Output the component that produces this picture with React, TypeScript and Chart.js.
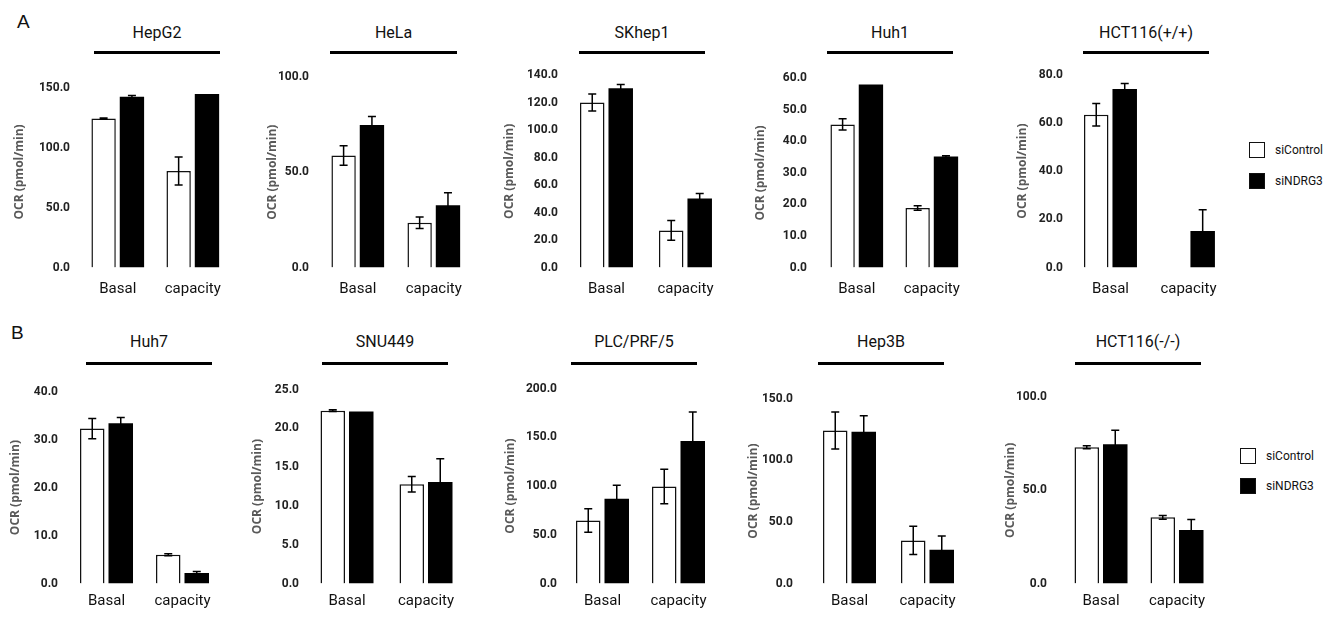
import React, { useEffect, useRef } from 'react';
import { Chart, registerables } from 'chart.js';

Chart.register(...registerables);

// ---------------- data ----------------
const categories = ['Basal', 'capacity'];
const seriesNames = ['siControl', 'siNDRG3'];
const cellLines = ['HepG2', 'HeLa', 'SKhep1', 'Huh1', 'HCT116(+/+)', 'Huh7', 'SNU449', 'PLC/PRF/5', 'Hep3B', 'HCT116(-/-)'];
const siControlValues: (number | null)[][] = [
  [124.7, 80.8], [58.8, 23.5], [120.1, 27.0], [45.4, 18.9], [63.4, null],
  [32.3, 6.0], [22.3, 12.8], [64.7, 99.5], [124.2, 35.0], [73.1, 35.5],
];
const siControlErrors = [
  [0.6, 11.8], [5.1, 3.0], [6.2, 7.2], [1.8, 0.7], [4.7, 0],
  [2.1, 0.2], [0.1, 1.0], [12.0, 17.7], [15.0, 11.5], [0.8, 1.0],
];
const siNDRG3Values = [
  [142.9, 145.3], [74.8, 32.7], [130.5, 50.3], [58.1, 35.2], [74.1, 15.1],
  [33.4, 2.2], [22.2, 13.1], [86.9, 146.2], [123.2, 27.3], [74.7, 28.7],
];
const siNDRG3Errors = [
  [1.2, 0], [4.5, 6.5], [2.8, 3.6], [0, 0.3], [2.3, 8.9],
  [1.2, 0.3], [0, 3.0], [14.0, 30.0], [13.0, 11.3], [7.6, 5.6],
];
const axisMax = [160, 100, 140, 60, 80, 40, 25, 200, 150, 100];
const axisStep = [50, 50, 20, 10, 20, 10, 5, 50, 50, 50];
const yAxisTitle = 'OCR (pmol/min)';
const panelLetters = ['A', 'B'];

// ---------------- layout (page pixels) ----------------
const panelLayout = [
  { row: 0, titleX: 19.5, tickRight: 70, basal: 118, cap: 193.5, lineL: 94, lineR: 220 },
  { row: 0, titleX: 272.5, tickRight: 309, basal: 358, cap: 434.5, lineL: 330, lineR: 457 },
  { row: 0, titleX: 509.5, tickRight: 558, basal: 606.5, cap: 685.5, lineL: 579, lineR: 705 },
  { row: 0, titleX: 761, tickRight: 807, basal: 857, cap: 932.5, lineL: 827, lineR: 953 },
  { row: 0, titleX: 1022.5, tickRight: 1063, basal: 1110.5, cap: 1188.5, lineL: 1083, lineR: 1209 },
  { row: 1, titleX: 15.5, tickRight: 58, basal: 106.5, cap: 182.5, lineL: 86, lineR: 212 },
  { row: 1, titleX: 257.5, tickRight: 299, basal: 347, cap: 426, lineL: 322, lineR: 448 },
  { row: 1, titleX: 510.5, tickRight: 557, basal: 602.5, cap: 678.5, lineL: 571, lineR: 697 },
  { row: 1, titleX: 754, tickRight: 793, basal: 849.5, cap: 927.5, lineL: 818, lineR: 944 },
  { row: 1, titleX: 1010.5, tickRight: 1047, basal: 1101, cap: 1177, lineL: 1075, lineR: 1201 },
];
const rowLayout = [
  { plotTop: 71, baseline: 267.5, titleY: 33, lineY: 51, labelGap: 16, letterX: 17, letterY: 21,
    legendX: 1249, legendY: [142, 173], legendTextX: 1275 },
  { plotTop: 386.5, baseline: 583.5, titleY: 342, lineY: 362, labelGap: 11.5, letterX: 11, letterY: 332,
    legendX: 1240, legendY: [448, 478], legendTextX: 1266 },
];

const SANS = "Roboto, 'Open Sans', sans-serif";
const CAT_SIZE = 15;

const errorBarPlugin = {
  id: 'errorBars',
  afterDatasetsDraw(chart: any) {
    const ctx = chart.ctx;
    const yScale = chart.scales.y;
    chart.data.datasets.forEach((ds: any, di: number) => {
      const meta = chart.getDatasetMeta(di);
      meta.data.forEach((bar: any, i: number) => {
        const v = ds.data[i];
        const e = ds.errors ? ds.errors[i] : 0;
        if (v == null || !e) return;
        const x = bar.x;
        const top = yScale.getPixelForValue(v + e);
        const bot = yScale.getPixelForValue(v - e);
        ctx.save();
        ctx.strokeStyle = '#000';
        ctx.lineWidth = 1.5;
        ctx.beginPath();
        ctx.moveTo(x, top);
        ctx.lineTo(x, bot);
        ctx.moveTo(x - 4, top);
        ctx.lineTo(x + 4, top);
        ctx.moveTo(x - 4, bot);
        ctx.lineTo(x + 4, bot);
        ctx.stroke();
        ctx.restore();
      });
    });
  },
};

function Panel({ index }: { index: number }) {
  const ref = useRef<HTMLCanvasElement | null>(null);
  const L = panelLayout[index];
  const R = rowLayout[L.row];
  const spacing = L.cap - L.basal;
  const chartLeft = L.basal - spacing / 2;
  const plotW = spacing * 2;
  const titleOffset = 7.2;
  const canvasLeft = Math.floor(L.titleX - titleOffset);
  const yAxisW = chartLeft - canvasLeft;
  const canvasTop = Math.floor(R.plotTop - 12);
  const xAxisH = 34;
  const innerW = chartLeft + plotW - canvasLeft;
  const width = Math.ceil(innerW) + 2;
  const plotBottom = R.baseline - canvasTop;
  const height = Math.ceil(plotBottom + xAxisH);
  const labelPad = R.labelGap + 0.41 * CAT_SIZE - CAT_SIZE * 0.6;

  useEffect(() => {
    if (!ref.current) return;
    const desired = { left: chartLeft - canvasLeft, top: R.plotTop - canvasTop, right: innerW, bottom: plotBottom };
    const pad = { left: 0, top: desired.top, right: width - innerW, bottom: height - xAxisH - plotBottom };
    const chart = new Chart(ref.current, {
      type: 'bar',
      data: {
        labels: categories,
        datasets: [
          {
            label: seriesNames[0],
            data: siControlValues[index],
            errors: siControlErrors[index],
            backgroundColor: '#ffffff',
            borderColor: '#111111',
            borderWidth: 1.5,
            categoryPercentage: 57 / spacing,
            barPercentage: 0.86,
          } as any,
          {
            label: seriesNames[1],
            data: siNDRG3Values[index],
            errors: siNDRG3Errors[index],
            backgroundColor: '#000000',
            borderWidth: 0,
            categoryPercentage: 57 / spacing,
            barPercentage: 0.86,
          } as any,
        ],
      },
      options: {
        responsive: false,
        animation: false,
        devicePixelRatio: 1,
        layout: { padding: { ...pad } },
        plugins: { legend: { display: false }, tooltip: { enabled: false } },
        scales: {
          x: {
            border: { display: false },
            grid: { display: false, drawTicks: false },
            ticks: {
              padding: labelPad,
              font: { family: SANS, size: CAT_SIZE, lineHeight: 1.2 },
              color: '#111111',
              maxRotation: 0,
              autoSkip: false,
            },
            afterFit: (s: any) => { s.height = xAxisH; },
          },
          y: {
            min: 0,
            max: axisMax[index],
            border: { display: false },
            grid: { display: false, drawTicks: false },
            ticks: {
              stepSize: axisStep[index],
              includeBounds: false,
              padding: chartLeft - L.tickRight,
              font: { family: SANS, size: 12, weight: 'bold' },
              color: '#222222',
              callback: (v: any) => Number(v).toFixed(1),
            },
            title: {
              display: true,
              text: yAxisTitle,
              font: { family: "'Open Sans', sans-serif", size: 12, weight: 'bold', lineHeight: 1.2 },
              color: '#595959',
              padding: 0,
            },
            afterFit: (s: any) => { s.width = yAxisW; },
          },
        },
      } as any,
      plugins: [errorBarPlugin],
    });
    // correct the chart area so it sits exactly where the reference plot is
    for (let k = 0; k < 4; k++) {
      const ca = chart.chartArea;
      const dT = desired.top - ca.top;
      const dB = ca.bottom - desired.bottom;
      const dL = desired.left - ca.left;
      const dR = ca.right - desired.right;
      if (Math.abs(dT) < 0.05 && Math.abs(dB) < 0.05 && Math.abs(dL) < 0.05 && Math.abs(dR) < 0.05) break;
      pad.top += dT;
      pad.bottom += dB;
      pad.left += dL;
      pad.right += dR;
      (chart.options as any).layout.padding = { ...pad };
      chart.update();
    }
    return () => chart.destroy();
  }, [index]);

  const lineW = L.lineR - L.lineL;
  return (
    <>
      <div
        style={{
          position: 'absolute', left: L.lineL + lineW / 2, top: R.titleY,
          transform: 'translate(-50%, -50%)', font: `16px ${SANS}`, color: '#111',
          whiteSpace: 'nowrap', lineHeight: 1,
        }}
      >
        {cellLines[index]}
      </div>
      <div
        style={{
          position: 'absolute', left: L.lineL, top: R.lineY, width: lineW, height: 3,
          background: '#000',
        }}
      />
      <canvas
        ref={ref}
        width={width}
        height={height}
        style={{ position: 'absolute', left: canvasLeft, top: canvasTop, width, height }}
      />
    </>
  );
}

function Legend({ row }: { row: number }) {
  const R = rowLayout[row];
  return (
    <>
      {seriesNames.map((name, i) => (
        <React.Fragment key={name}>
          <div
            style={{
              position: 'absolute', left: R.legendX, top: R.legendY[i], width: 16, height: 16,
              boxSizing: 'border-box', border: '1.5px solid #111',
              background: i === 0 ? '#fff' : '#000',
            }}
          />
          <div
            style={{
              position: 'absolute', left: R.legendTextX, top: R.legendY[i] + 8,
              transform: 'translateY(-50%)', font: `12px ${SANS}`, color: '#111',
              whiteSpace: 'nowrap', lineHeight: 1,
            }}
          >
            {name}
          </div>
        </React.Fragment>
      ))}
    </>
  );
}

export default function App() {
  return (
    <div style={{ position: 'absolute', left: 0, top: 0, width: 1334, height: 617, background: '#fff', overflow: 'hidden' }}>
      {panelLetters.map((letter, r) => (
        <div
          key={letter}
          style={{
            position: 'absolute', left: rowLayout[r].letterX, top: rowLayout[r].letterY,
            transform: 'translateY(-50%)', font: "19px 'Liberation Sans', Arial, sans-serif",
            color: '#111', lineHeight: 1,
          }}
        >
          {letter}
        </div>
      ))}
      {cellLines.map((_, i) => <Panel key={i} index={i} />)}
      <Legend row={0} />
      <Legend row={1} />
    </div>
  );
}
